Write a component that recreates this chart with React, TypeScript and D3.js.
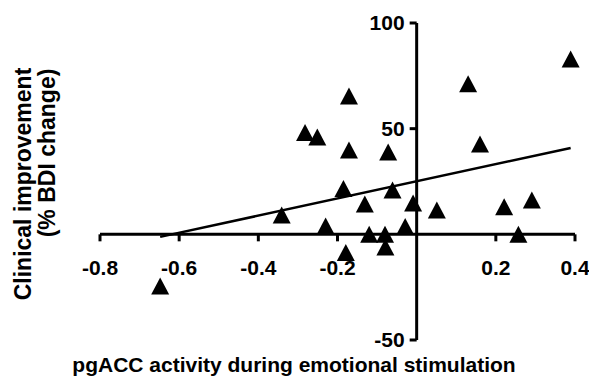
import React from "react";
import * as d3 from "d3";

// pgACC activity (x) vs clinical improvement in % BDI change (y)
const activity = [
  0.389, 0.13, -0.171, -0.282, -0.251, 0.16, -0.171, -0.072, -0.185, -0.061, -0.131, -0.009,
  0.051, 0.221, 0.291, -0.341, -0.23, -0.12, -0.08, -0.029, -0.079, -0.179, 0.257, -0.648,
];
const improvement = [
  83, 71.2, 65.5, 48.2, 46.1, 42.7, 39.9, 39, 21.7, 21, 14.4, 14.8,
  11.5, 13.1, 16.2, 9.1, 3.9, 0, 0, 3.7, -6, -8.6, 0, -24.4,
];
// fitted line
const trendIntercept = 25.1;
const trendSlope = 40.6;

const xTicks = [-0.8, -0.6, -0.4, -0.2, 0.2, 0.4];
const xTickLabels = ["-0.8", "-0.6", "-0.4", "-0.2", "0.2", "0.4"];
const yTicks = [-50, 50, 100];
const yTickLabels = ["-50", "50", "100"];

const W = 589;
const H = 383;
const font = "Arial, 'Liberation Sans', Helvetica, sans-serif";

const App = () => {
  const x = d3.scaleLinear().domain([-0.8, 0.4]).range([100, 575]);
  const y = d3.scaleLinear().domain([-50, 100]).range([340, 23]);
  const x0 = x(0);
  const y0 = y(0);

  const xMin = d3.min(activity) as number;
  const xMax = d3.max(activity) as number;
  const line = d3
    .line<number>()
    .x(d => x(d))
    .y(d => y(trendIntercept + trendSlope * d));

  const tri = (cx: number, cy: number) => {
    const w = 18, h = 17;
    return `M${cx},${cy - h / 2}L${cx + w / 2},${cy + h / 2}L${cx - w / 2},${cy + h / 2}Z`;
  };

  return (
    <div style={{ position: "absolute", left: 0, top: 0 }}>
      <svg width={W} height={H} style={{ display: "block", background: "#fff" }}>
        <g fontFamily={font} fontWeight="bold" fontSize={21} fill="#000">
          {/* x axis */}
          <line x1={x(-0.8)} x2={x(0.4)} y1={y0} y2={y0} stroke="#000" strokeWidth={3} />
          {xTicks.map((t, i) => (
            <g key={t}>
              <line x1={x(t)} x2={x(t)} y1={y0} y2={y0 + 7} stroke="#000" strokeWidth={3} />
              <text x={x(t)} y={y0 + 33} textAnchor="middle" dy="0.35em">
                {xTickLabels[i]}
              </text>
            </g>
          ))}
          {/* y axis */}
          <line x1={x0} x2={x0} y1={y(100)} y2={y(-50)} stroke="#000" strokeWidth={3} />
          {yTicks.map((t, i) => (
            <g key={t}>
              <line x1={x0 - 7} x2={x0} y1={y(t)} y2={y(t)} stroke="#000" strokeWidth={3} />
              <text x={x0 - 12} y={y(t)} textAnchor="end" dy="0.35em">
                {yTickLabels[i]}
              </text>
            </g>
          ))}
          {/* trend line */}
          <path d={line([xMin, xMax]) as string} fill="none" stroke="#000" strokeWidth={2.5} />
          {/* points */}
          {activity.map((a, i) => (
            <path key={i} d={tri(x(a), y(improvement[i]))} fill="#000" />
          ))}
          {/* axis titles */}
          <text x={294} y={372} textAnchor="middle">
            pgACC activity during emotional stimulation
          </text>
          <text transform="translate(31,184) rotate(-90)" textAnchor="middle" fontSize={23}>
            Clinical improvement
          </text>
          <text transform="translate(55,153) rotate(-90)" textAnchor="middle" fontSize={23}>
            (% BDI change)
          </text>
        </g>
      </svg>
    </div>
  );
};

export default App;
